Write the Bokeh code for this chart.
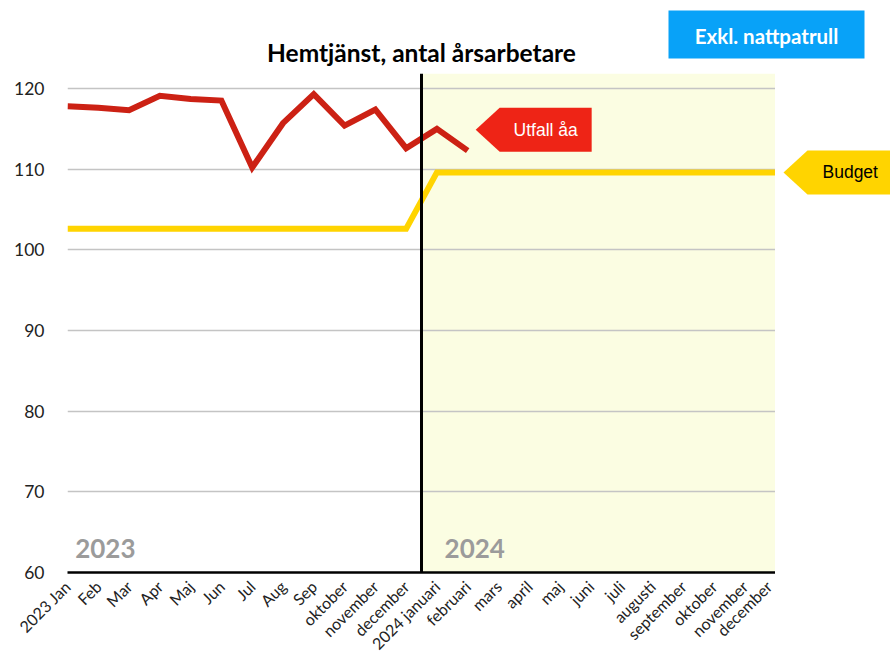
from math import pi
from bokeh.plotting import figure
from bokeh.layouts import column, row
from bokeh.models import FixedTicker, BoxAnnotation, Span, Range1d
from bokeh.core.properties import value
from bokeh.embed import file_html
from bokeh.resources import INLINE

# ---- data ----
months = ["2023 Jan", "Feb", "Mar", "Apr", "Maj", "Jun", "Jul", "Aug", "Sep",
          "oktober", "november", "december", "2024 januari", "februari", "mars",
          "april", "maj", "juni", "juli", "augusti", "september", "oktober",
          "november", "december"]
utfall = [117.8, 117.6, 117.3, 119.1, 118.7, 118.5, 110.2, 115.7, 119.3,
          115.4, 117.4, 112.6, 115.0, 112.3]
budget = [102.6, 102.6, 102.6, 102.6, 102.6, 102.6, 102.6, 102.6, 102.6,
          102.6, 102.6, 102.6, 109.6, 109.6, 109.6, 109.6, 109.6, 109.6,
          109.6, 109.6, 109.6, 109.6, 109.6, 109.6]
y_ticks = [60, 70, 80, 90, 100, 110, 120]

# ---- page geometry ----
W, H = 890, 664
FL, FR, FT, FB = 67, 775, 73, 572
X0, X1 = 0, len(months) - 1
Y0, Y1 = 60, 121.86
PX_PER_Y = (FB - FT) / (Y1 - Y0)

GEO = "Lato"
HELV = "Liberation Sans"

def bare(fig):
    fig.outline_line_color = None
    fig.xaxis.visible = False
    fig.yaxis.visible = False
    fig.xgrid.visible = False
    fig.ygrid.visible = False

# ---- top strip: title + button ----
top = figure(width=W, height=FT, x_range=Range1d(0, W), y_range=Range1d(FT, 0),
             min_border=0, output_backend="svg", toolbar_location=None)
bare(top)
top.text(x=[421], y=[52], text=["Hemtjänst, antal årsarbetare"],
         text_font=value(GEO), text_font_style="bold", text_font_size="24.5px",
         text_align="center", text_baseline="middle", text_color="black")
top.quad(left=[668], right=[864], top=[10], bottom=[58],
         fill_color="#08a2f8", line_color=None)
top.text(x=[766], y=[35], text=["Exkl. nattpatrull"], text_font=value(GEO),
         text_font_style="bold", text_font_size="20.5px", text_align="center",
         text_baseline="middle", text_color="white")

# ---- main chart ----
p = figure(width=FR, height=H - FT, x_range=Range1d(X0, X1),
           y_range=Range1d(Y0, Y1), min_border_left=FL, min_border_right=0,
           min_border_top=0, min_border_bottom=H - FB,
           output_backend="svg", toolbar_location=None)
p.outline_line_color = None

p.add_layout(BoxAnnotation(left=11.5, right=X1, fill_color="#fbfde2",
                           fill_alpha=1, line_color=None, level="image"))

p.xaxis.ticker = FixedTicker(ticks=list(range(len(months))))
p.xaxis.major_label_overrides = {i: m for i, m in enumerate(months)}
p.xaxis.major_label_orientation = pi / 4
p.xaxis.major_tick_line_color = None
p.xaxis.minor_tick_line_color = None
p.xaxis.axis_line_color = "black"
p.xaxis.axis_line_width = 2.5
p.xaxis.major_label_text_font = GEO
p.xaxis.major_label_text_font_size = "16px"
p.xaxis.major_label_text_color = "#222222"
p.xaxis.major_label_standoff = 5

p.yaxis.ticker = FixedTicker(ticks=y_ticks)
p.yaxis.axis_line_color = None
p.yaxis.major_tick_line_color = None
p.yaxis.minor_tick_line_color = None
p.yaxis.major_label_text_font = GEO
p.yaxis.major_label_text_font_size = "17.5px"
p.yaxis.major_label_text_color = "#222222"
p.yaxis.major_label_standoff = 17

p.xgrid.grid_line_color = None
p.ygrid.grid_line_color = "#c4c4c4"
p.ygrid.grid_line_width = 1.5

p.line(list(range(len(budget))), budget, line_color="#ffd400", line_width=6,
       line_join="miter")
p.line(list(range(len(utfall))), utfall, line_color="#cc2114", line_width=6,
       line_join="miter")

p.add_layout(Span(location=11.5, dimension="height", line_color="black",
                  line_width=3))

# year labels
ylab = Y0 + (FB - 548) / PX_PER_Y
p.text(x=[0.25, 12.25], y=[ylab, ylab], text=["2023", "2024"],
       text_font=value(GEO), text_font_style="bold", text_font_size="26px",
       text_align="left", text_baseline="middle", text_color="#9b9b9b")

# Utfall arrow label (placed right of last actual value)
xpx = (X1 - X0) / (FR - FL)          # data units per pixel in x
last_i = len(utfall) - 1
ay = utfall[-1] + 2.6                 # arrow centre height
tip = last_i + 8 * xpx
hh = 22 / PX_PER_Y
p.patch(x=[tip, tip + 24 * xpx, tip + 116 * xpx, tip + 116 * xpx, tip + 24 * xpx],
        y=[ay, ay + hh, ay + hh, ay - hh, ay - hh],
        fill_color="#ee2416", line_color=None)
p.text(x=[tip + 70 * xpx], y=[ay], text=["Utfall åa"], text_font=value(HELV),
       text_font_size="17.5px", text_align="center", text_baseline="middle",
       text_color="white")

# ---- right strip: Budget arrow ----
rt = figure(width=W - FR, height=H - FT, x_range=Range1d(FR, W),
            y_range=p.y_range, min_border_left=0, min_border_right=0,
            min_border_top=0, min_border_bottom=H - FB,
            output_backend="svg", toolbar_location=None)
bare(rt)
by = budget[-1]
rt.patch(x=[783, 807, 900, 900, 807], y=[by, by + hh, by + hh, by - hh, by - hh],
         fill_color="#ffd400", line_color=None)
rt.text(x=[822], y=[by], text=["Budget"], text_font=value(HELV),
        text_font_size="17.5px", text_align="left", text_baseline="middle",
        text_color="black")

layout = column(top, row(p, rt, spacing=0), spacing=0)
open("out.html", "w").write(file_html(layout, INLINE))
